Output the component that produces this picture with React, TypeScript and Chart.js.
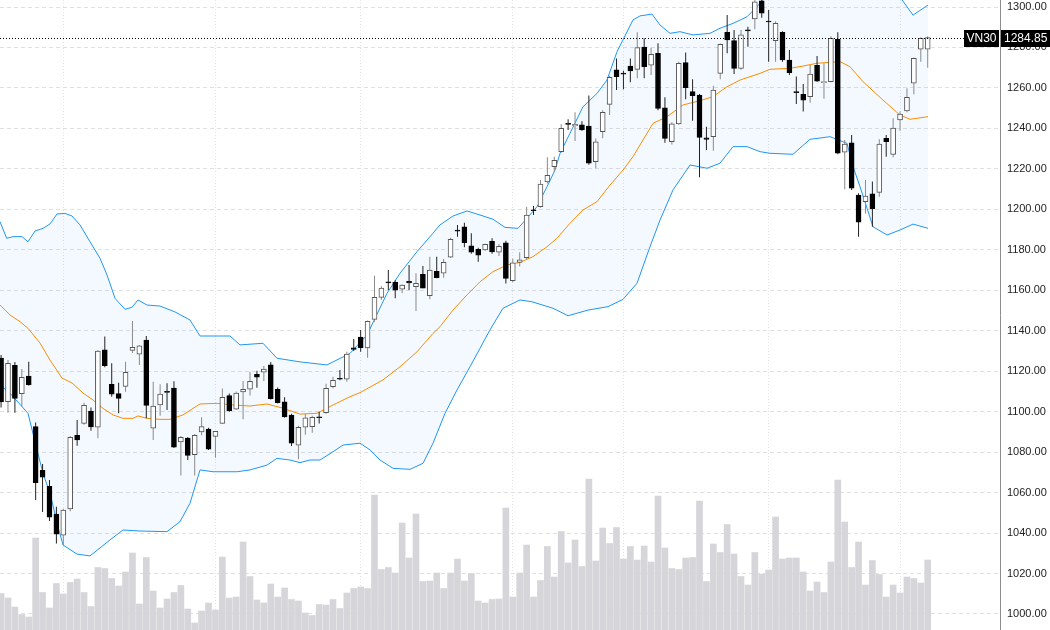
import React, { useEffect, useRef } from "react";
import { Chart, registerables } from "chart.js";

Chart.register(...registerables);

const symbol = "VN30";

// Daily OHLC (trading-day index 0 = 19 Oct 2023 ... 134 = 8 May 2024)
const open = [
  1126.5, 1105.0, 1122.9, 1108.9, 1117.6, 1092.6, 1071.0, 1063.1, 1049.4, 1038.9,
  1051.9, 1088.3, 1094.2, 1100.3, 1092.3, 1130.6, 1113.5, 1108.9, 1112.5, 1130.3,
  1128.4, 1135.4, 1091.8, 1103.3, 1110.0, 1111.7, 1085.0, 1087.0, 1078.7, 1090.0,
  1091.4, 1087.8, 1094.2, 1107.9, 1101.2, 1109.7, 1111.1, 1118.5, 1119.5, 1123.2,
  1111.1, 1104.9, 1098.3, 1083.4, 1092.3, 1092.6, 1097.5, 1099.5, 1112.3, 1116.5,
  1116.1, 1131.5, 1136.9, 1131.5, 1145.6, 1156.5, 1164.2, 1163.9, 1160.5, 1164.4,
  1161.8, 1167.9, 1157.3, 1169.4, 1168.4, 1176.3, 1189.6, 1191.4, 1182.0, 1180.2,
  1179.9, 1184.2, 1178.8, 1183.4, 1164.7, 1173.8, 1176.1, 1199.5, 1201.3, 1213.5,
  1221.1, 1228.5, 1242.2, 1241.2, 1241.8, 1241.2, 1223.5, 1238.4, 1251.9, 1268.9,
  1267.0, 1270.8, 1269.2, 1280.2, 1271.2, 1277.1, 1250.2, 1233.4, 1242.2, 1272.5,
  1258.2, 1256.5, 1235.4, 1235.9, 1267.2, 1287.5, 1283.4, 1269.7, 1288.5, 1294.1,
  1303.0, 1292.8, 1283.4, 1287.5, 1273.8, 1257.9, 1256.9, 1255.7, 1271.2, 1262.6,
  1263.1, 1284.0, 1228.2, 1232.9, 1207.1, 1203.8, 1207.7, 1208.4, 1235.1, 1227.2,
  1244.2, 1248.6, 1262.3, 1279.1, 1279.1,
];
const high = [
  1128.0, 1125.5, 1124.5, 1121.1, 1124.7, 1094.7, 1074.1, 1066.2, 1053.0, 1052.0,
  1088.0, 1095.9, 1104.4, 1102.0, 1130.5, 1137.1, 1123.9, 1114.3, 1124.7, 1144.8,
  1133.0, 1137.4, 1114.8, 1113.5, 1114.0, 1115.0, 1088.0, 1087.5, 1089.0, 1097.2,
  1092.0, 1090.5, 1111.5, 1109.0, 1110.0, 1115.2, 1119.6, 1120.2, 1122.6, 1124.5,
  1112.0, 1107.1, 1099.0, 1093.0, 1098.8, 1098.0, 1100.0, 1113.8, 1117.3, 1120.6,
  1129.6, 1135.9, 1140.4, 1145.0, 1167.2, 1162.0, 1170.0, 1165.0, 1163.0, 1172.5,
  1168.4, 1172.0, 1176.6, 1176.6, 1175.5, 1186.0, 1192.3, 1193.4, 1188.2, 1181.0,
  1183.0, 1185.7, 1182.9, 1184.5, 1175.6, 1178.8, 1201.3, 1201.7, 1214.5, 1225.7,
  1226.0, 1242.0, 1244.5, 1248.0, 1243.5, 1256.2, 1235.0, 1249.0, 1266.0, 1274.6,
  1268.5, 1274.6, 1287.5, 1284.5, 1279.9, 1282.1, 1255.4, 1243.0, 1273.0, 1277.5,
  1264.3, 1257.0, 1240.8, 1261.1, 1282.0, 1296.0, 1288.6, 1288.6, 1290.3, 1306.0,
  1306.0, 1298.5, 1293.0, 1288.0, 1278.7, 1265.6, 1262.0, 1271.3, 1275.8, 1272.2,
  1285.5, 1287.5, 1234.3, 1236.7, 1208.0, 1214.5, 1213.7, 1234.6, 1236.7, 1245.0,
  1248.3, 1259.8, 1275.0, 1285.0, 1285.5,
];
const low = [
  1102.0, 1099.5, 1099.5, 1102.5, 1112.8, 1056.3, 1050.4, 1046.0, 1034.9, 1034.0,
  1050.8, 1083.2, 1093.5, 1090.6, 1086.8, 1122.0, 1107.4, 1099.2, 1109.9, 1129.0,
  1123.1, 1096.7, 1086.0, 1098.0, 1100.8, 1082.0, 1068.5, 1076.1, 1068.5, 1088.3,
  1081.0, 1077.2, 1094.0, 1100.0, 1100.8, 1096.2, 1108.0, 1111.8, 1115.2, 1106.0,
  1104.0, 1097.0, 1083.0, 1076.5, 1088.6, 1089.6, 1094.2, 1099.0, 1111.5, 1115.5,
  1114.8, 1130.0, 1129.6, 1126.7, 1144.5, 1155.2, 1160.1, 1156.0, 1158.5, 1160.1,
  1149.8, 1161.0, 1155.5, 1166.0, 1166.2, 1176.0, 1186.5, 1181.2, 1178.0, 1174.1,
  1179.5, 1178.0, 1176.9, 1163.4, 1164.0, 1171.7, 1175.5, 1197.2, 1200.8, 1212.8,
  1218.6, 1228.0, 1239.2, 1233.8, 1238.8, 1222.0, 1220.3, 1235.1, 1246.6, 1259.0,
  1259.3, 1262.8, 1264.8, 1264.8, 1266.4, 1249.0, 1232.9, 1232.1, 1241.8, 1254.4,
  1243.8, 1215.8, 1229.3, 1229.0, 1264.3, 1277.1, 1266.9, 1269.0, 1280.4, 1289.0,
  1294.7, 1273.0, 1273.0, 1273.0, 1266.4, 1252.1, 1248.3, 1252.7, 1263.0, 1254.7,
  1262.8, 1227.2, 1209.9, 1209.5, 1186.5, 1198.0, 1191.4, 1206.2, 1226.0, 1225.7,
  1238.9, 1248.0, 1256.9, 1273.0, 1270.0,
];
const close = [
  1104.8, 1123.9, 1106.6, 1117.0, 1113.3, 1064.9, 1067.6, 1047.8, 1039.4, 1051.4,
  1087.3, 1086.0, 1103.1, 1092.4, 1130.0, 1122.7, 1108.7, 1106.6, 1119.5, 1131.8,
  1132.5, 1103.1, 1102.8, 1108.7, 1109.5, 1082.4, 1087.3, 1078.4, 1088.3, 1092.6,
  1081.5, 1090.3, 1107.1, 1100.5, 1109.2, 1111.1, 1115.0, 1117.0, 1121.1, 1106.4,
  1104.4, 1097.4, 1084.4, 1092.3, 1096.9, 1097.2, 1097.0, 1111.5, 1115.5, 1116.0,
  1128.5, 1130.8, 1131.6, 1144.7, 1156.5, 1161.1, 1163.6, 1160.1, 1162.6, 1163.6,
  1163.4, 1161.0, 1170.0, 1166.2, 1173.8, 1185.2, 1189.2, 1183.5, 1178.8, 1177.4,
  1182.7, 1178.9, 1181.7, 1165.9, 1173.6, 1175.0, 1197.2, 1199.3, 1212.5, 1216.8,
  1224.2, 1240.0, 1242.0, 1242.0, 1239.2, 1222.8, 1233.4, 1248.0, 1265.3, 1265.6,
  1266.8, 1268.4, 1279.9, 1270.5, 1276.6, 1249.9, 1235.1, 1242.2, 1272.2, 1260.1,
  1256.2, 1235.6, 1234.6, 1259.0, 1281.5, 1283.7, 1269.7, 1286.2, 1288.2, 1302.5,
  1296.9, 1292.6, 1291.9, 1273.8, 1267.5, 1257.7, 1254.0, 1266.9, 1263.4, 1263.1,
  1284.5, 1227.7, 1232.3, 1210.4, 1193.6, 1206.6, 1200.3, 1232.3, 1233.4, 1240.2,
  1247.1, 1255.4, 1274.6, 1284.5, 1284.85,
];
// Volume (million shares)
const volume = [
  73, 64, 46, 31, 26, 184, 75, 44, 93, 72,
  95, 102, 75, 47, 125, 123, 103, 88, 116, 154,
  52, 145, 78, 44, 62, 75, 89, 42, 14, 38,
  54, 40, 146, 64, 66, 176, 107, 60, 54, 92,
  66, 84, 61, 58, 34, 29, 51, 50, 61, 43,
  74, 83, 86, 83, 270, 121, 125, 114, 214, 144,
  232, 97, 98, 114, 83, 114, 142, 98, 113, 58,
  54, 61, 62, 244, 66, 114, 170, 66, 99, 167,
  106, 197, 134, 180, 127, 302, 138, 204, 173, 205,
  142, 167, 140, 168, 136, 268, 164, 123, 121, 144,
  145, 258, 97, 172, 155, 211, 152, 107, 90, 155,
  112, 120, 226, 142, 144, 144, 116, 78, 96, 75,
  136, 300, 216, 125, 176, 90, 139, 111, 66, 90,
  74, 106, 103, 94, 140,
];

// Bollinger band lines, [trading-day index, value]
const upperBand = [
  [-0.15, 1193.9], [0.81, 1185.7], [1.73, 1186.5], [3.03, 1186.5], [3.89, 1184.0], [4.91, 1189.3],
  [6.06, 1190.6], [7.08, 1192.8], [8.09, 1197.7], [9.24, 1198.0], [10.26, 1196.7], [11.41, 1192.3],
  [12.86, 1184.0], [14.31, 1175.8], [15.32, 1167.6], [16.48, 1156.0], [17.92, 1150.6], [18.93, 1151.6],
  [19.8, 1155.2], [21.1, 1152.7], [22.98, 1152.2], [25.15, 1149.3], [27.32, 1145.3], [28.77, 1137.4],
  [33.11, 1137.4], [34.55, 1133.0], [37.88, 1133.8], [39.9, 1126.4], [43.23, 1124.6], [47.13, 1123.1],
  [50.46, 1128.8], [52.92, 1137.9], [55.81, 1158.5], [57.69, 1168.4], [60.15, 1179.1], [62.46, 1188.2],
  [63.47, 1192.3], [65.35, 1196.7], [67.38, 1199.2], [69.26, 1197.2], [71.14, 1195.1], [72.87, 1191.1],
  [74.75, 1190.6], [76.06, 1195.6], [77.5, 1201.3], [78.95, 1211.2], [80.1, 1219.4], [80.83, 1227.7],
  [82.27, 1237.6], [84.15, 1250.7], [86.18, 1257.3], [87.62, 1263.9], [89.07, 1277.9], [91.38, 1293.6],
  [92.4, 1295.6], [94.13, 1296.5], [95.29, 1291.1], [96.73, 1287.0], [98.18, 1287.8], [100.06, 1286.2],
  [102.52, 1287.0], [103.97, 1289.5], [105.85, 1291.9], [107.87, 1295.2], [109.32, 1300.2], [111.92, 1310.9],
  [115.53, 1315.8], [119.87, 1318.3], [122.76, 1333.1], [125.66, 1328.2], [128.55, 1313.3], [130.29, 1303.5],
  [131.88, 1296.0], [134.05, 1301.0],
];
const middleBand = [
  [-0.15, 1152.7], [1.29, 1147.8], [2.74, 1144.5], [3.89, 1141.2], [5.63, 1133.9], [7.08, 1125.5],
  [8.81, 1116.6], [10.26, 1114.2], [11.85, 1109.2], [13.29, 1105.8], [14.74, 1101.6], [16.19, 1098.4],
  [17.63, 1096.7], [19.08, 1096.7], [19.8, 1097.9], [21.1, 1096.7], [22.98, 1096.2], [24.43, 1096.2],
  [26.31, 1098.4], [28.77, 1103.8], [31.23, 1104.1], [33.54, 1103.3], [36.0, 1102.8], [38.46, 1103.8],
  [40.77, 1101.7], [43.23, 1098.8], [45.69, 1099.2], [48.0, 1103.3], [50.46, 1107.4], [51.91, 1109.4],
  [55.23, 1115.7], [57.69, 1122.2], [60.15, 1129.6], [62.46, 1138.7], [63.47, 1142.0], [65.35, 1150.2],
  [67.38, 1157.7], [69.26, 1164.2], [71.14, 1169.2], [73.16, 1172.5], [75.04, 1173.8], [76.92, 1176.6],
  [78.95, 1181.5], [80.39, 1185.7], [82.27, 1193.1], [84.15, 1199.7], [86.18, 1203.8], [88.06, 1212.0],
  [89.94, 1219.4], [91.38, 1226.0], [92.83, 1234.3], [94.28, 1242.5], [96.3, 1245.8], [98.62, 1251.6],
  [101.07, 1253.7], [102.95, 1255.7], [104.98, 1260.6], [106.86, 1263.9], [109.75, 1267.2], [111.19, 1269.2],
  [114.09, 1269.7], [115.97, 1270.8], [117.99, 1272.2], [121.32, 1273.0], [122.76, 1270.5], [124.64, 1263.1],
  [127.54, 1254.0], [129.99, 1246.6], [131.44, 1244.5], [134.05, 1245.8],
];
const lowerBand = [
  [-0.15, 1113.2], [1.29, 1109.1], [3.89, 1099.2], [5.2, 1081.1], [6.06, 1069.5], [7.08, 1059.7],
  [8.23, 1043.1], [8.96, 1034.1], [10.98, 1029.6], [12.86, 1028.7], [15.75, 1036.6], [17.63, 1041.5],
  [20.09, 1041.0], [23.99, 1040.7], [25.87, 1045.6], [27.32, 1054.7], [28.77, 1071.2], [30.65, 1070.3],
  [34.12, 1070.3], [36.0, 1071.2], [38.46, 1073.6], [39.9, 1076.9], [41.78, 1076.1], [43.23, 1074.8],
  [44.67, 1076.1], [46.12, 1076.1], [48.0, 1080.2], [49.45, 1083.5], [51.91, 1084.4], [53.35, 1081.1],
  [54.8, 1076.1], [56.68, 1072.0], [59.14, 1071.5], [61.02, 1074.5], [62.46, 1084.4], [64.2, 1099.2],
  [65.93, 1110.7], [67.81, 1122.2], [69.26, 1131.3], [70.7, 1140.4], [72.58, 1151.1], [75.04, 1155.2],
  [76.78, 1154.3], [79.82, 1151.1], [81.99, 1147.4], [84.88, 1150.2], [87.77, 1151.9], [89.94, 1155.5],
  [91.97, 1163.5], [93.84, 1181.5], [95.29, 1194.7], [97.17, 1209.6], [99.63, 1221.9], [102.09, 1220.3],
  [103.97, 1222.8], [105.85, 1231.0], [107.87, 1231.0], [109.75, 1228.5], [111.19, 1227.7], [114.52, 1227.2],
  [116.98, 1234.6], [119.87, 1235.9], [122.33, 1232.6], [123.2, 1221.1], [124.21, 1211.2], [126.09, 1191.4],
  [128.12, 1187.3], [130.0, 1189.8], [131.88, 1192.7], [134.05, 1190.6],
];

// First trading day of each month (Nov, Dec, Jan, Feb, Mar, Apr, May)
const monthStarts = [9, 31, 52, 74, 90, 111, 130];
const priceTicks = [1000, 1020, 1040, 1060, 1080, 1100, 1120, 1140, 1160, 1180, 1200, 1220, 1240, 1260, 1280, 1300];

const FONT = "'Liberation Sans', Arial, sans-serif";

export default function App() {
  const ref = useRef<HTMLCanvasElement>(null);

  useEffect(() => {
    if (!ref.current) return;
    const idx = close.map((_, i) => i);
    const isUp = idx.map((i) => close[i] >= open[i]);

    const lastPricePlugin = {
      id: "lastPrice",
      afterDraw(chart: any) {
        const { ctx, chartArea, scales } = chart;
        const last = close[close.length - 1];
        const y = Math.round(scales.y.getPixelForValue(last)) + 0.5;
        ctx.save();
        ctx.strokeStyle = "#000";
        ctx.lineWidth = 1;
        ctx.setLineDash([1, 2]);
        ctx.beginPath();
        ctx.moveTo(chartArea.left, y);
        ctx.lineTo(chartArea.right - 36, y);
        ctx.stroke();
        ctx.setLineDash([]);
        const top = Math.round(y - 8.5);
        ctx.fillStyle = "#000";
        ctx.fillRect(chartArea.right - 36, top, 35, 17);
        ctx.fillRect(chartArea.right + 1, top, 60, 17);
        ctx.fillStyle = "#fff";
        ctx.font = `12px ${FONT}`;
        ctx.textBaseline = "middle";
        ctx.textAlign = "center";
        ctx.fillText(symbol, chartArea.right - 18.5, top + 9);
        ctx.textAlign = "left";
        ctx.fillText(last.toFixed(2), chartArea.right + 4, top + 9);
        ctx.restore();
      },
    };

    const chart = new Chart(ref.current, {
      type: "bar",
      data: {
        datasets: [
          {
            type: "bar",
            label: "Volume",
            data: idx.map((i) => ({ x: i, y: volume[i] })),
            yAxisID: "yv",
            backgroundColor: "#d6d6da",
            barThickness: 6,
            grouped: false,
            order: 6,
          } as any,
          {
            type: "line",
            label: "Upper",
            data: upperBand.map(([x, y]) => ({ x, y })),
            yAxisID: "y",
            borderColor: "#2196f3",
            borderWidth: 1,
            pointRadius: 0,
            tension: 0,
            fill: "+2",
            backgroundColor: "rgba(33,150,243,0.055)",
            order: 5,
          },
          {
            type: "line",
            label: "Middle",
            data: middleBand.map(([x, y]) => ({ x, y })),
            yAxisID: "y",
            borderColor: "#fb8c00",
            borderWidth: 1,
            pointRadius: 0,
            tension: 0,
            fill: false,
            order: 4,
          },
          {
            type: "line",
            label: "Lower",
            data: lowerBand.map(([x, y]) => ({ x, y })),
            yAxisID: "y",
            borderColor: "#2196f3",
            borderWidth: 1,
            pointRadius: 0,
            tension: 0,
            fill: false,
            order: 5,
          },
          {
            type: "bar",
            label: "Wick",
            data: idx.map((i) => ({ x: i, y: [low[i], high[i]] })),
            yAxisID: "y",
            backgroundColor: idx.map((i) => (isUp[i] ? "#8a8a8a" : "#222222")),
            barThickness: 1,
            inflateAmount: 0,
            grouped: false,
            order: 2,
          } as any,
          {
            type: "bar",
            label: "Body",
            data: idx.map((i) => ({ x: i, y: [open[i], close[i]] })),
            yAxisID: "y",
            backgroundColor: idx.map((i) => (isUp[i] ? "#ffffff" : "#000000")),
            borderColor: idx.map((i) => (isUp[i] ? "#555555" : "#000000")),
            borderWidth: 1,
            borderSkipped: false,
            barThickness: 5,
            minBarLength: 1,
            grouped: false,
            order: 1,
          } as any,
        ],
      },
      options: {
        responsive: false,
        animation: false,
        devicePixelRatio: 1,
        layout: { padding: 0 },
        plugins: { legend: { display: false }, tooltip: { enabled: false } },
        scales: {
          x: {
            type: "linear",
            min: -0.155,
            max: 144.455,
            offset: false,
            afterBuildTicks: (s: any) => {
              s.ticks = monthStarts.map((v) => ({ value: v }));
            },
            ticks: { display: false },
            grid: { color: "#e3e3e3", drawTicks: false, offset: false, lineWidth: 1 },
            border: { display: false, dash: [1, 2] },
            afterFit: (s: any) => {
              s.height = 0;
              s.paddingLeft = 0;
              s.paddingRight = 0;
            },
          },
          y: {
            type: "linear",
            position: "right",
            min: 992.09,
            max: 1303.46,
            afterBuildTicks: (s: any) => {
              s.ticks = priceTicks.map((v) => ({ value: v }));
            },
            ticks: {
              padding: 7,
              color: "#222",
              font: { size: 11, family: FONT },
              callback: (v: any) => Number(v).toFixed(2),
            },
            grid: { color: "#e0e0e0", drawTicks: false, lineWidth: 1 },
            border: { display: true, color: "#8c8c8c", width: 1, dash: [4, 3] },
            afterFit: (s: any) => {
              s.width = 50;
              s.paddingTop = 0;
              s.paddingBottom = 0;
            },
          },
          yv: {
            type: "linear",
            display: false,
            min: 0,
            max: 1260,
          },
        },
      } as any,
      plugins: [lastPricePlugin],
    });
    return () => chart.destroy();
  }, []);

  return (
    <div style={{ position: "absolute", left: 0, top: 0, width: 1050, height: 630, background: "#fff" }}>
      <canvas ref={ref} width={1050} height={630} style={{ display: "block" }} />
    </div>
  );
}
